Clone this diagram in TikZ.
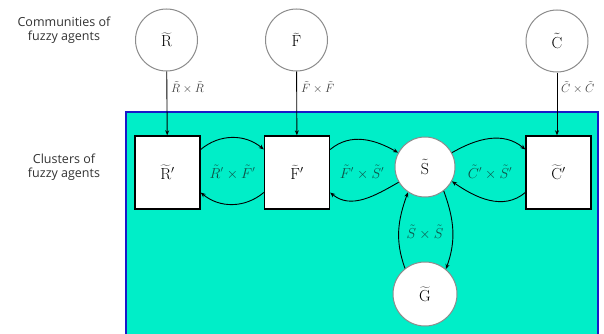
\documentclass[tikz,border=0pt]{standalone}
\usepackage{fontspec}
\newfontfamily\sidefont{Open Sans}
\usetikzlibrary{arrows.meta}
\definecolor{teal1}{RGB}{0,238,200}
\definecolor{frameblue}{RGB}{25,25,200}
\definecolor{labteal}{RGB}{15,80,70}
\definecolor{circgray}{RGB}{140,140,140}
\begin{document}
\begin{tikzpicture}[x=1pt,y=1pt,
  comm/.style={circle,draw=circgray,line width=1pt,fill=white,minimum size=62pt,inner sep=0pt,font=\fontsize{16}{18}\selectfont},
  clus/.style={rectangle,draw=black,line width=1.4pt,fill=white,minimum width=65pt,minimum height=73pt,inner sep=0pt,font=\fontsize{16}{18}\selectfont},
  arr/.style={line width=0.9pt,-{Stealth[length=5pt,width=4pt]}},
  lab/.style={font=\fontsize{13.5}{15}\selectfont,text=labteal,inner sep=0pt},
  outlab/.style={font=\fontsize{13}{15}\selectfont,text=black!75,inner sep=0pt,anchor=west},
  side/.style={font=\sidefont\fontsize{12.5}{13.5}\selectfont,align=center,text=black!80}]
\useasboundingbox (0,0) rectangle (604,333);
\fill[white] (0,0) rectangle (604,333);
\draw[frameblue,line width=1.2pt,fill=teal1] (126,-10) rectangle (598,221);
\node[side] (t1) at (64,303) {Communities of\\fuzzy agents};
\node[side] (t2) at (64,166) {Clusters of\\fuzzy agents};
\node[comm] (R) at (166.5,293) {$\widetilde{\mathrm{R}}$};
\node[comm] (F) at (296.5,293) {$\widetilde{\mathrm{F}}$};
\node[comm] (C) at (557,292) {$\tilde{\mathrm{C}}$};
\node[clus] (Rp) at (167.5,160.5) {$\widetilde{\mathrm{R}}'$};
\node[clus] (Fp) at (297,160.5) {$\widetilde{\mathrm{F}}'$};
\node[clus] (Cp) at (558.5,160.5) {$\widetilde{\mathrm{C}}'$};
\node[comm,minimum size=60pt] (S) at (425,166) {$\tilde{\mathrm{S}}$};
\node[comm,minimum size=64pt] (G) at (425,39) {$\widetilde{\mathrm{G}}$};
\draw[arr] (R) -- (Rp);
\draw[arr] (F) -- (Fp);
\draw[arr] (C.south) -- (C.south |- Cp.north);
\node[outlab] (lr) at (171,245) {$\tilde R\times\tilde R$};
\node[outlab] (lf) at (301,245) {$\tilde F\times\tilde F$};
\node[outlab] (lc) at (561,245) {$\tilde C\times\tilde C$};
\draw[arr] ([yshift=23pt]Rp.east) to[out=40,in=140] ([yshift=23pt]Fp.west);
\draw[arr] ([yshift=-20pt]Fp.west) to[out=-140,in=-40] ([yshift=-20pt]Rp.east);
\draw[arr] ([yshift=23pt]Fp.east) to[out=40,in=150] (S.152);
\draw[arr] (S.210) to[out=-150,in=-40] ([yshift=-20pt]Fp.east);
\draw[arr] (S.28) to[out=30,in=140] ([yshift=23pt]Cp.west);
\draw[arr] ([yshift=-20pt]Cp.west) to[out=-140,in=-35] (S.-28);
\draw[arr] (G.128) to[out=110,in=-110] (S.236);
\draw[arr] (S.-52) to[out=-70,in=70] (G.50);
\node[lab] (l1) at (232.5,161) {$\tilde R'\times\tilde F'$};
\node[lab] (l2) at (362,161) {$\tilde F'\times\tilde S'$};
\node[lab] (l3) at (490,161) {$\tilde C'\times\tilde S'$};
\node[lab] (l4) at (425,101) {$\tilde S\times\tilde S$};
\end{tikzpicture}
\end{document}
